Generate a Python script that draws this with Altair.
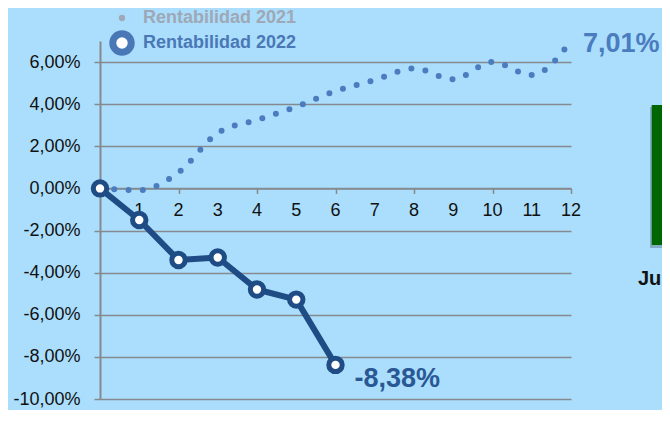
import altair as alt
import pandas as pd

# ---- data ----
months_2021 = list(range(13))
rent_2021 = [0.0, -0.08, 0.76, 2.63, 3.25, 3.88, 4.62, 5.15, 5.70, 5.18, 6.00, 5.38, 7.01]
months_2022 = list(range(7))
rent_2022 = [0.0, -1.50, -3.40, -3.28, -4.80, -5.28, -8.38]
y_ticks = [-10, -8, -6, -4, -2, 0, 2, 4, 6]
x_ticks = list(range(13))
x_tick_labels = [str(m) for m in range(1, 13)]
legend_labels = ["Rentabilidad 2021", "Rentabilidad 2022"]
neighbour_label = ["Ju"]

# ---- style ----
BG = "#aadefc"
GRID = "#868a8e"
C21 = "#4a7cbf"
C22 = "#1f4c84"
LEG_GRAY = "#9ea8b6"
LEG_BLUE = "#4a78b6"
FONT = "Liberation Sans"
W, H = 471, 358
Y_MIN, Y_MAX = -10, 7
X_AXIS_OFFSET = H * (Y_MAX / (Y_MAX - Y_MIN)) - H  # move x axis up to the 0 line

x_scale = alt.Scale(domain=[0, 12], nice=False)
y_scale = alt.Scale(domain=[Y_MIN, Y_MAX], nice=False)

d21 = pd.DataFrame({"mes": months_2021, "rent": rent_2021})
d22 = pd.DataFrame({"mes": months_2022, "rent": rent_2022})
dticks = pd.DataFrame({"mes": [int(t) for t in x_tick_labels], "lbl": x_tick_labels,
                       "rent": [0] * len(x_tick_labels)})

pct_axis = "(datum.value < 0 ? '-' : '') + replace(format(abs(datum.value), '.2f'), '.', ',') + '%'"
pct_datum = "(datum.rent < 0 ? '-' : '') + replace(format(abs(datum.rent), '.2f'), '.', ',') + '%'"

x_axis = alt.Axis(values=x_ticks, labels=False, offset=X_AXIS_OFFSET, grid=False,
                  domainColor=GRID, domainWidth=1.5, tickColor=GRID, tickSize=5,
                  tickWidth=1.5, tickCount=12)
y_axis = alt.Axis(values=y_ticks, labelExpr=pct_axis, grid=True, gridColor=GRID,
                  gridWidth=1.5, domainColor=GRID, domainWidth=2, tickColor=GRID,
                  tickSize=6, tickWidth=1.5, labelFontSize=18, labelColor="#111111",
                  labelPadding=14, labelFont=FONT, labelOverlap=False)

x_enc = alt.X("mes:Q", scale=x_scale, title=None, axis=x_axis)
y_enc = alt.Y("rent:Q", scale=y_scale, title=None, axis=y_axis)

line21 = alt.Chart(d21).mark_line(
    interpolate="monotone", strokeDash=[0, 14.3], strokeCap="round",
    strokeWidth=6, color=C21,
).encode(x=x_enc, y=y_enc)

xlabels = alt.Chart(dticks).mark_text(
    baseline="middle", align="center", dy=23, fontSize=18, font=FONT, color="#111111"
).encode(x=x_enc, y=y_enc, text="lbl:N")

line22 = alt.Chart(d22).mark_line(strokeWidth=6, color=C22, strokeJoin="round").encode(
    x=x_enc, y=y_enc)

pts22 = alt.Chart(d22).mark_point(
    filled=True, fill="white", stroke=C22, strokeWidth=5, size=180, opacity=1, shape="circle"
).encode(x=x_enc, y=y_enc)

lab21 = alt.Chart(d21).transform_filter("datum.mes == 12").transform_calculate(
    lbl=pct_datum).mark_text(
    align="left", baseline="middle", dx=12, dy=3, fontSize=27, fontWeight="bold",
    font=FONT, color=C21,
).encode(x=x_enc, y=y_enc, text="lbl:N")

lab22 = alt.Chart(d22).transform_filter("datum.mes == 6").transform_calculate(
    lbl=pct_datum).mark_text(
    align="left", baseline="middle", dx=19, dy=14, fontSize=27, fontWeight="bold",
    font=FONT, color="#2a5894",
).encode(x=x_enc, y=y_enc, text="lbl:N")

# ---- legend (drawn manually) ----
leg = pd.DataFrame({"label": legend_labels})
leg_dot = alt.Chart(leg).transform_filter("datum.label == 'Rentabilidad 2021'").mark_point(
    filled=True, color=LEG_GRAY, size=40, opacity=1
).encode(x=alt.value(22), y=alt.value(-23))
leg_ring = alt.Chart(leg).transform_filter("datum.label == 'Rentabilidad 2022'").mark_point(
    filled=True, fill="white", stroke=LEG_BLUE, strokeWidth=7, size=340, opacity=1
).encode(x=alt.value(22), y=alt.value(2))
leg_t1 = alt.Chart(leg).transform_filter("datum.label == 'Rentabilidad 2021'").mark_text(
    align="left", baseline="middle", fontSize=18, fontWeight="bold", font=FONT, color=LEG_GRAY
).encode(x=alt.value(43), y=alt.value(-23), text="label:N")
leg_t2 = alt.Chart(leg).transform_filter("datum.label == 'Rentabilidad 2022'").mark_text(
    align="left", baseline="middle", fontSize=18, fontWeight="bold", font=FONT, color=LEG_BLUE
).encode(x=alt.value(43), y=alt.value(2), text="label:N")

# ---- fragment of neighbouring chart ----
nb = pd.DataFrame({"t": neighbour_label})
nb_shadow = alt.Chart(nb).mark_rect(color="#000000", opacity=0.22).encode(
    x=alt.value(550), x2=alt.value(600), y=alt.value(66), y2=alt.value(207))
nb_rect = alt.Chart(nb).mark_rect(color="#006600").encode(
    x=alt.value(551.7), x2=alt.value(600), y=alt.value(64), y2=alt.value(204))
nb_text = alt.Chart(nb).mark_text(
    align="left", baseline="alphabetic", fontSize=20, fontWeight="bold", font=FONT, color="#111111"
).encode(x=alt.value(538), y=alt.value(244), text="t:N")

chart = alt.layer(
    line21, xlabels, line22, pts22, lab21, lab22,
    leg_dot, leg_ring, leg_t1, leg_t2,
    nb_shadow, nb_rect, nb_text,
).properties(
    width=W, height=H,
    autosize=alt.AutoSizeParams(type="none"),
    padding={"left": 92, "top": 33, "right": 91, "bottom": 11},
    background=BG,
).configure_view(stroke=None)

chart.save("out.html", embed_options={"renderer": "svg", "actions": False})
